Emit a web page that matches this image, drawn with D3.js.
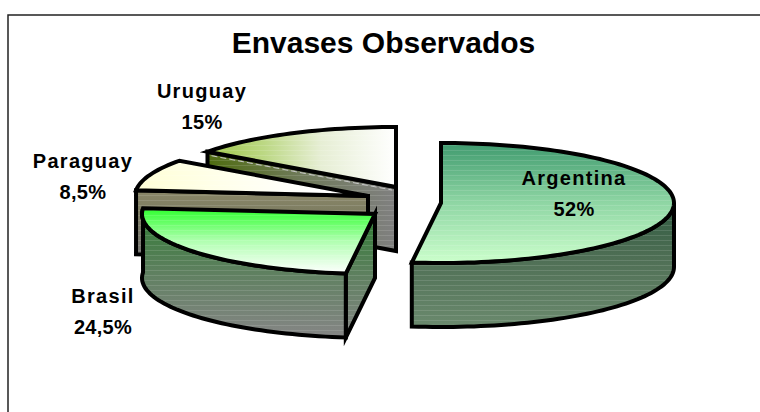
<!DOCTYPE html>
<html lang="en">
	<head>
		<meta charset="utf-8">
		<title>Envases Observados</title>
		<script src="https://cdn.jsdelivr.net/npm/d3@7"></script>
		<style type="text/css">
			html, body { margin: 0; padding: 0; background: #fff; overflow: hidden; }
			svg { display: block; }
			text { font-family: "Liberation Sans", Arial, sans-serif; font-weight: bold; fill: #000; text-anchor: middle; }
		</style>
	</head>
	<body>
		<script type="text/javascript">

			// Data
			var paises = ["Argentina", "Brasil", "Paraguay", "Uruguay"];
			var valores = [52, 24.5, 8.5, 15];
			var etiquetas = ["52%", "24,5%", "8,5%", "15%"];

			var w = 760;
			var h = 412;
			var rx = 233, ry = 60, depth = 64;

			// pulled-out slice centres and label anchors, same order as paises
			var centros = [[441, 203], [375, 214], [368, 196], [396, 187]];
			var posEtiqueta = [[574, 185], [103, 303], [83, 168], [202, 98]];

			var svg = d3.select("body").append("svg").attr("width", w).attr("height", h);
			var defs = svg.append("defs");

			function gradiente(id, x2, y2, stops) {
				var g = defs.append("linearGradient").attr("id", id)
					.attr("x1", 0).attr("y1", 0).attr("x2", x2).attr("y2", y2);
				stops.forEach(function(s) {
					g.append("stop").attr("offset", s[0]).attr("stop-color", s[1]);
				});
			}

			gradiente("topA", 0, 1, [[0, "#3f9a6e"], [0.5, "#8fd6a4"], [1, "#ccffcc"]]);
			gradiente("wallA", 0, 1, [[0, "#2f5a40"], [0.45, "#4f6f55"], [1, "#6b8a6e"]]);
			gradiente("topB", 0, 1, [[0, "#2eff2e"], [0.5, "#b0ffb0"], [1, "#ffffff"]]);
			gradiente("wallB", 0, 1, [[0, "#2c7a30"], [0.5, "#5f8060"], [1, "#868686"]]);
			gradiente("topP", 1, 0, [[0, "#ffffd6"], [0.75, "#ffffff"], [1, "#ffffff"]]);
			gradiente("wallP", 0, 1, [[0, "#8a8768"], [0.3, "#7e7d62"], [1, "#777777"]]);
			gradiente("topU", 1, 0, [[0, "#a0c84a"], [0.3, "#bcd884"], [0.6, "#e6eed4"], [1, "#ffffff"]]);
			gradiente("wallU", 1, 0, [[0, "#4f6c10"], [0.5, "#6f7a5a"], [1, "#808080"]]);

			// thin light stripes, the original gradients show this banding
			var bandas = defs.append("pattern").attr("id", "bandas")
				.attr("patternUnits", "userSpaceOnUse")
				.attr("width", 8).attr("height", 5);
			bandas.append("rect")
				.attr("y", 0).attr("width", 8).attr("height", 1)
				.attr("fill", "#fff").attr("fill-opacity", 0.12);

			svg.append("rect")
				.attr("x", 8).attr("y", 15)
				.attr("width", w + 20).attr("height", h + 20)
				.attr("fill", "#fff").attr("stroke", "#222").attr("stroke-width", 1.5);

			// angles come from d3.pie, first slice starts at 12 o'clock
			var pie = d3.pie().sort(null).value(function(d) { return d; });
			var slices = pie(valores);

			// ellipse projection of the pie
			function punto(c, a) {
				return [c[0] + rx * Math.sin(a), c[1] - ry * Math.cos(a)];
			}

			function arco(c, a0, a1) {
				var n = Math.max(2, Math.ceil((a1 - a0) / 0.03));
				return d3.range(n + 1).map(function(i) {
					return punto(c, a0 + (a1 - a0) * i / n);
				});
			}

			function bajar(pts) {
				return pts.map(function(p) { return [p[0], p[1] + depth]; });
			}

			var linea = d3.line();

			function poligono(pts, fill) {
				var d = linea(pts) + "Z";
				svg.append("path").attr("d", d).attr("fill", fill);
				svg.append("path").attr("d", d).attr("fill", "url(#bandas)");
				svg.append("path")
					.attr("d", d)
					.attr("fill", "none")
					.attr("stroke", "#000")
					.attr("stroke-width", 4)
					.attr("stroke-linejoin", "miter")
					.attr("stroke-miterlimit", 6);
			}

			// cut face between the slice centre and one rim point
			function cara(c, a, fill) {
				var rim = punto(c, a);
				poligono([c, rim, [rim[0], rim[1] + depth], [c[0], c[1] + depth]], fill);
			}

			// outer wall, only the part that faces the viewer
			function pared(c, a0, a1, fill) {
				var d0 = Math.max(a0, Math.PI / 2);
				var pts = arco(c, d0, a1);
				poligono(pts.concat(bajar(pts).reverse()), fill);
			}

			function tapa(c, a0, a1, fill) {
				poligono([c].concat(arco(c, a0, a1)), fill);
			}

			// painter's order: back to front
			var iA = 0, iB = 1, iP = 2, iU = 3;

			// Uruguay
			cara(centros[iU], slices[iU].startAngle, "url(#wallU)");
			var uA = punto(centros[iU], slices[iU].startAngle);
			svg.append("path")
				.attr("d", linea([[uA[0] + 4, uA[1] + 4], [centros[iU][0] - 4, centros[iU][1] + 3]]))
				.attr("fill", "none").attr("stroke", "#c8c8c8").attr("stroke-width", 1)
				.attr("stroke-dasharray", "6,3");
			tapa(centros[iU], slices[iU].startAngle, slices[iU].endAngle, "url(#topU)");

			// Paraguay
			cara(centros[iP], slices[iP].startAngle, "url(#wallP)");
			tapa(centros[iP], slices[iP].startAngle, slices[iP].endAngle, "url(#topP)");

			// Brasil
			cara(centros[iB], slices[iB].startAngle, "url(#wallB)");
			pared(centros[iB], slices[iB].startAngle, slices[iB].endAngle, "url(#wallB)");
			tapa(centros[iB], slices[iB].startAngle, slices[iB].endAngle, "url(#topB)");

			// Argentina
			pared(centros[iA], slices[iA].startAngle, slices[iA].endAngle, "url(#wallA)");
			tapa(centros[iA], slices[iA].startAngle, slices[iA].endAngle, "url(#topA)");

			// Title
			svg.append("text")
				.attr("x", 383.5).attr("y", 53)
				.attr("font-size", "30px")
				.text("Envases Observados");

			// Labels
			paises.forEach(function(p, i) {
				var t = svg.append("text")
					.attr("font-size", "20px")
					.attr("letter-spacing", "1.3px");
				t.append("tspan").attr("x", posEtiqueta[i][0]).attr("y", posEtiqueta[i][1]).text(p);
				t.append("tspan").attr("x", posEtiqueta[i][0]).attr("y", posEtiqueta[i][1] + 31)
					.attr("letter-spacing", "0.3px").text(etiquetas[i]);
			});

		</script>
	</body>
</html>
